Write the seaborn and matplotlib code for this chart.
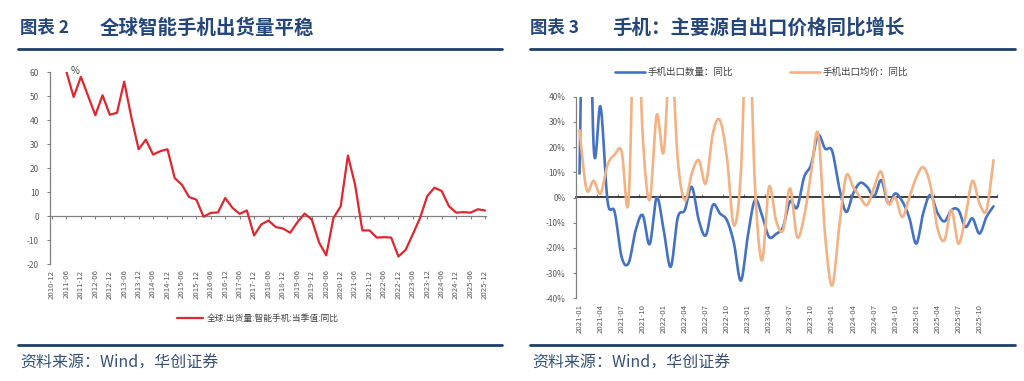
import numpy as np
import pandas as pd
import matplotlib
matplotlib.use("Agg")
import matplotlib.pyplot as plt
from matplotlib.lines import Line2D
import seaborn as sns

sns.set_theme(style="white")
plt.rcParams["font.family"] = ["Noto Sans CJK SC", "DejaVu Sans"]

# ---------------- data: left chart (quarterly) ----------------
left_categories = [d.strftime("%Y-%m") for d in pd.date_range("2010-12-31", "2025-12-31", freq="QE")]
left_start = "2011-06"
left_values = [60, 49.6, 58, 50, 42, 50.3, 42.2, 43, 56, 41,
               27.8, 31.8, 25.6, 27, 27.8, 15.8, 13, 7.9, 6.8, -0.3,
               1.3, 1.5, 7.5, 3.4, 0.9, 2.3, -8.1, -3.5, -1.9, -4.6,
               -5.2, -7, -2.6, 1.0, -1.5, -11, -16.4, -0.8, 4.0, 25.2,
               13, -6, -6, -9, -8.8, -9, -16.9, -14.1, -7.6, -0.8,
               8.3, 11.8, 10.4, 4.1, 1.4, 1.6, 1.4, 2.8, 2.3]
left_label = "全球:出货量:智能手机:当季值:同比"
left_yticks = [-20, -10, 0, 10, 20, 30, 40, 50, 60]

# ---------------- data: right chart (monthly) ----------------
right_categories = [d.strftime("%Y-%m") for d in pd.date_range("2021-01-01", "2025-12-01", freq="MS")]
qty_yoy = [9.5, 150, 21, 36, -1.5, -5.7, -23.6, -26, -13, -7,
           -18.5, 0, -13, -27.5, -8, -5, 4.2, -9, -15, -3,
           -6.3, -9, -18, -33, -15, -1, -7, -15.6, -14.5, -11.7,
           -1.5, -4, 8, 13, 24.7, 19.4, 18.5, 4, -5.7, 1.6,
           5.8, 4.2, 0.5, 6.9, -2.4, 1.6, -1.5, -8, -18.3, -6,
           1, -6, -9.5, -5, -5, -11.7, -8.3, -14.3, -7.7, -3.5]
price_yoy = [26.7, 3.2, 6.6, 1.6, 13, 17, 18.4, -1, 90, 25,
             -1, 32.7, 18.1, 60, 15, -1.1, 9.5, 14.8, 5.6, 25.4,
             30.7, 16, -11, 10, 80, 5, -25, 4.2, -9, -13,
             3.6, -15.6, -7.7, 9.5, 25.4, -15, -35, -12, 8.5, 4.2,
             0, -3, 4.2, 10.2, -2.4, 0, -7.7, 0, 8, 12,
             5, -12, -17, -5, -18.3, -7.7, 6.6, -2.4, -5, 14.8]
right_labels = ["手机出口数量：同比", "手机出口均价：同比"]
right_yticks = [-40, -30, -20, -10, 0, 10, 20, 30, 40]

RED = "#E0262F"
BLUE = "#4472C4"
ORANGE = "#F4B183"
AXC = "#808080"
TXT = "#595959"
NAVY = "#24467A"

W, H = 1024, 381


def fx(x):
    return x / W


def fy(y):
    return 1 - y / H


def smooth(xs, ys, n=24):
    """Excel-style smoothed line (Catmull-Rom Bezier through the points)."""
    xs = np.asarray(xs, float)
    ys = np.asarray(ys, float)
    P = np.column_stack([xs, ys])
    P = np.vstack([P[0], P, P[-1]])
    out = []
    t = np.linspace(0, 1, n, endpoint=False)[:, None]
    for i in range(1, len(P) - 2):
        p0, p1, p2, p3 = P[i - 1], P[i], P[i + 1], P[i + 2]
        b1 = p1 + (p2 - p0) / 6
        b2 = p2 - (p3 - p1) / 6
        seg = ((1 - t) ** 3) * p1 + 3 * ((1 - t) ** 2) * t * b1 + 3 * (1 - t) * t ** 2 * b2 + t ** 3 * p2
        out.append(seg)
    out.append(P[-2][None, :])
    out = np.vstack(out)
    return out[:, 0], out[:, 1]


fig = plt.figure(figsize=(W / 100, H / 100), dpi=100)
fig.patch.set_facecolor("white")

# ---------------- left chart ----------------
axL = fig.add_axes([fx(50), fy(264), fx(486) - fx(50), (264 - 72) / H])
start_idx = left_categories.index(left_start)
dfL = pd.DataFrame({"pos": np.arange(start_idx, start_idx + len(left_values)),
                    "value": left_values, "series": left_label})
sns.lineplot(data=dfL, x="pos", y="value", hue="series", palette=[RED],
             linewidth=1.6, ax=axL, legend=False)
axL.set_xlim(-0.28, len(left_categories) - 1 + 0.14)
axL.set_ylim(-20, 60)
axL.set_yticks(left_yticks)
axL.set_yticklabels([str(v) for v in left_yticks], fontsize=6, color=TXT)
lpos = list(range(0, len(left_categories), 2))
axL.set_xticks(lpos)
axL.set_xticklabels([left_categories[i] for i in lpos], rotation=90, fontsize=5.6, color=TXT)
axL.tick_params(axis="x", length=0, pad=4)
axL.tick_params(axis="y", length=2, width=0.8, color=AXC, pad=6, left=True)
for s in ["top", "right", "bottom"]:
    axL.spines[s].set_visible(False)
axL.spines["left"].set_color(AXC)
axL.spines["left"].set_linewidth(0.9)
axL.set_xlabel("")
axL.set_ylabel("")
secL = axL.secondary_xaxis(20 / 80)
secL.set_xticks(lpos)
secL.set_xticklabels([])
secL.tick_params(length=2.5, width=0.8, color=AXC, direction="out")
secL.spines["bottom"].set_color(AXC)
secL.spines["bottom"].set_linewidth(0.9)
fig.text(fx(71), fy(71), "%", fontsize=7, color="#404040", va="center", ha="left")

# left legend
fig.add_artist(Line2D([fx(177), fx(203)], [fy(318), fy(318)], color=RED, lw=1.6))
fig.text(fx(207), fy(318), left_label, fontsize=6.3, color="#404040", va="center", ha="left")

# ---------------- right chart ----------------
axR = fig.add_axes([fx(576), fy(298.3), fx(997) - fx(576), (298.3 - 96.7) / H])
rows = []
for name, vals in [(right_labels[0], qty_yoy), (right_labels[1], price_yoy)]:
    sx, sy = smooth(np.arange(len(vals)), vals)
    rows.append(pd.DataFrame({"x": sx, "y": sy, "series": name}))
dfR = pd.concat(rows, ignore_index=True)
sns.lineplot(data=dfR, x="x", y="y", hue="series", palette=[BLUE, ORANGE],
             linewidth=1.9, ax=axR, legend=False, sort=False, estimator=None)
axR.set_xlim(-0.5, len(right_categories) - 0.5)
axR.set_ylim(-40, 40)
axR.set_yticks(right_yticks)
axR.set_yticklabels([f"{v}%" for v in right_yticks], fontsize=6, color=TXT)
rpos = list(range(0, len(right_categories), 3))
axR.set_xticks(rpos)
axR.set_xticklabels([right_categories[i] for i in rpos], rotation=90, fontsize=5.6, color=TXT)
axR.tick_params(axis="x", length=0, pad=4)
axR.tick_params(axis="y", length=2.5, width=0.8, color=AXC, pad=5, left=True)
for s in ["top", "right", "bottom"]:
    axR.spines[s].set_visible(False)
axR.spines["left"].set_color(AXC)
axR.spines["left"].set_linewidth(0.9)
axR.set_xlabel("")
axR.set_ylabel("")
secR = axR.secondary_xaxis(0.5)
secR.set_xticks([p + 2.5 for p in rpos])
secR.set_xticklabels([])
secR.tick_params(length=2.5, width=0.8, color=AXC, direction="out")
secR.spines["bottom"].set_color(AXC)
secR.spines["bottom"].set_linewidth(0.9)

# right legend
fig.add_artist(Line2D([fx(615), fx(645)], [fy(72), fy(72)], color=BLUE, lw=1.9))
fig.text(fx(648), fy(72), right_labels[0], fontsize=6.8, color="#404040", va="center", ha="left")
fig.add_artist(Line2D([fx(790), fx(820)], [fy(72), fy(72)], color=ORANGE, lw=1.9))
fig.text(fx(823), fy(72), right_labels[1], fontsize=6.8, color="#404040", va="center", ha="left")

# ---------------- titles, rules, sources ----------------
for x_num, num, x_title, title in [(20, "图表 2", 100, "全球智能手机出货量平稳"),
                                   (530, "图表 3", 612, "手机：主要源自出口价格同比增长")]:
    fig.text(fx(x_num), fy(28), num, fontsize=12.5, fontweight="bold",
             color=NAVY, va="center", ha="left")
    fig.text(fx(x_title), fy(28), title, fontsize=14, fontweight="bold",
             color=NAVY, va="center", ha="left")
for x0, x1 in [(18, 502), (530, 1015)]:
    fig.add_artist(Line2D([fx(x0), fx(x1)], [fy(49), fy(49)], color="#1F3F6E", lw=2.0))
    fig.add_artist(Line2D([fx(x0), fx(x1)], [fy(345), fy(345)], color="#1F3F6E", lw=2.0))
for x0 in [20, 532]:
    fig.text(fx(x0), fy(363), "资料来源：Wind，华创证券", fontsize=11.5, color="#34507A",
             va="center", ha="left")

fig.savefig("out.png", dpi=100, facecolor="white")
